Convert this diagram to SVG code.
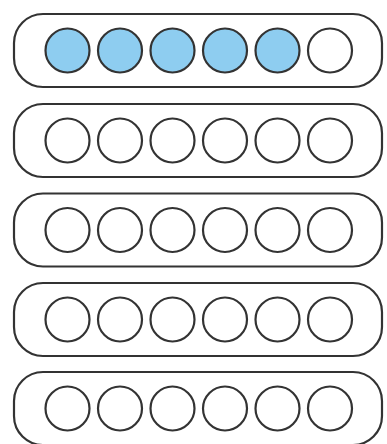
<svg xmlns="http://www.w3.org/2000/svg" width="387" height="444" viewBox="0 0 387 444">
<style>
.box{fill:#fff;stroke:#333;stroke-width:2.2}
.c{fill:#fff;stroke:#333;stroke-width:2.2}
.f{fill:#8ecdf0}
</style>
<defs>
<g id="row">
<rect class="box" x="14" y="0" width="368" height="73" rx="29" ry="29"/>
<circle class="c" cx="67.5" cy="36.5" r="22"/>
<circle class="c" cx="120" cy="36.5" r="22"/>
<circle class="c" cx="172.5" cy="36.5" r="22"/>
<circle class="c" cx="225" cy="36.5" r="22"/>
<circle class="c" cx="277.5" cy="36.5" r="22"/>
<circle class="c" cx="330" cy="36.5" r="22"/>
</g>
</defs>
<rect width="387" height="444" fill="#fff"/>
<g id="row1">
<rect class="box" x="14" y="14" width="368" height="73" rx="29" ry="29"/>
<circle class="c f" cx="67.5" cy="50.5" r="22"/>
<circle class="c f" cx="120" cy="50.5" r="22"/>
<circle class="c f" cx="172.5" cy="50.5" r="22"/>
<circle class="c f" cx="225" cy="50.5" r="22"/>
<circle class="c f" cx="277.5" cy="50.5" r="22"/>
<circle class="c" cx="330" cy="50.5" r="22"/>
</g>
<g id="row2"><use href="#row" y="104"/></g>
<g id="row3"><use href="#row" y="193.5"/></g>
<g id="row4"><use href="#row" y="283"/></g>
<g id="row5"><use href="#row" y="372"/></g>
<g id="connectors"/>
</svg>
